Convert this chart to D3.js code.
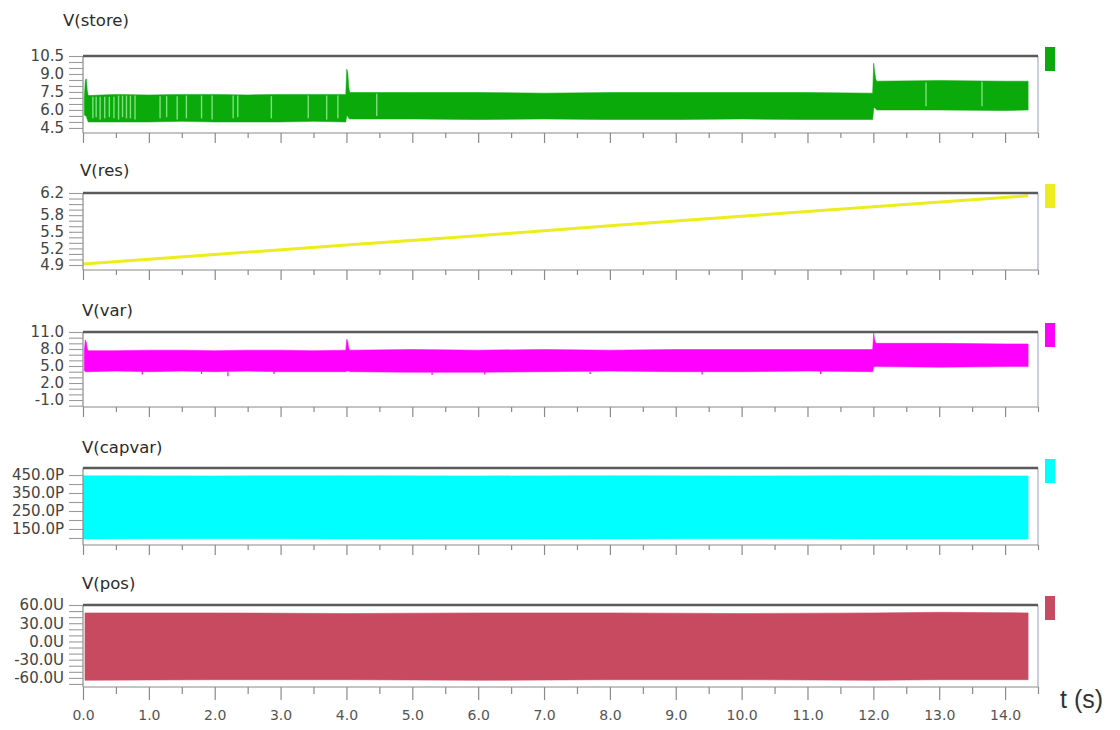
<!DOCTYPE html>
<html>
<head>
<meta charset="utf-8">
<script src="https://cdn.jsdelivr.net/npm/d3@7"></script>
<style>
  body { margin: 0; background: #fff; }
  svg { display: block; }
  .tick text { font-family: "DejaVu Sans", sans-serif; }
</style>
</head>
<body>
<svg id="chart" width="1120" height="730"></svg>
<script>
// ---- Time axis ----
const timeMajorTicks = d3.range(0, 14.01, 1);
const timeMinorTicks = d3.range(0.5, 14.51, 1);

// ---- V(store): envelope of the fast-switching waveform ----
const storeT  = [0.02, 0.035, 0.05, 0.065, 0.08, 0.5, 1.0, 1.5, 2.0, 2.5, 3.0, 3.5, 3.99, 4.005, 4.02, 4.035, 4.05, 5.0, 6.0, 7.0, 8.0, 9.0, 10.0, 11.0, 11.99, 12.005, 12.02, 12.035, 12.05, 13.0, 14.0, 14.35];
const storeLo = [5.6, 5.5, 5.5, 5.2, 5.0, 5.0, 5.0, 5.05, 5.0, 5.0, 5.0, 5.05, 5.0, 5.5, 5.5, 5.3, 5.25, 5.25, 5.2, 5.25, 5.2, 5.2, 5.25, 5.2, 5.2, 6.1, 6.2, 6.1, 6.0, 6.0, 5.95, 6.0];
const storeHi = [7.0, 8.5, 8.6, 7.6, 7.2, 7.3, 7.25, 7.3, 7.3, 7.25, 7.3, 7.3, 7.3, 9.4, 9.1, 7.9, 7.45, 7.45, 7.45, 7.4, 7.45, 7.45, 7.45, 7.45, 7.4, 9.9, 9.2, 8.6, 8.4, 8.45, 8.4, 8.4];
// short drop-outs visible inside the band
const storeDips   = [0.15, 0.2, 0.26, 0.33, 0.40, 0.47, 0.54, 0.60, 0.66, 0.72, 0.79, 1.17, 1.27, 1.43, 1.57, 1.80, 1.96, 2.28, 2.35, 2.86, 3.42, 3.70, 3.87, 4.46, 12.8, 13.65];
const storeDipLow = [5.3, 5.4, 5.2, 5.3, 5.4, 5.3, 5.2, 5.4, 5.3, 5.3, 5.2, 5.3, 5.4, 5.2, 5.3, 5.3, 5.2, 5.3, 5.4, 5.3, 5.3, 5.2, 5.3, 5.5, 6.3, 6.3];

// ---- V(res): slowly rising voltage ----
const resT = [0.0, 2.0, 4.0, 6.0, 8.0, 10.0, 12.0, 14.35];
const resV = [4.92, 5.09, 5.26, 5.43, 5.61, 5.78, 5.95, 6.15];

// ---- V(var): envelope ----
const varT  = [0.02, 0.035, 0.05, 0.065, 0.08, 0.5, 1.0, 1.5, 2.0, 2.5, 3.0, 3.5, 3.99, 4.005, 4.02, 4.035, 4.05, 5.0, 6.0, 7.0, 8.0, 9.0, 10.0, 11.0, 11.99, 12.005, 12.02, 12.035, 12.05, 13.0, 14.0, 14.35];
const varLo = [4.2, 4.0, 4.0, 4.0, 4.0, 4.1, 4.0, 4.1, 4.0, 4.1, 4.0, 4.0, 4.0, 4.1, 4.1, 4.1, 4.0, 3.9, 3.9, 4.0, 4.1, 4.0, 4.0, 4.1, 4.0, 4.8, 4.9, 4.9, 4.9, 4.8, 4.9, 4.9];
const varHi = [7.6, 9.6, 9.2, 8.0, 7.7, 7.7, 7.8, 7.8, 7.7, 7.8, 7.8, 7.7, 7.8, 9.7, 9.3, 8.1, 7.8, 7.9, 7.8, 7.9, 7.8, 7.9, 7.9, 7.9, 7.9, 10.8, 9.6, 9.1, 9.0, 9.0, 8.9, 8.9];
// brief downward excursions along the lower edge
const varDips   = [0.9, 1.8, 2.2, 2.9, 5.3, 6.1, 7.7, 9.4, 11.2];
const varDipLow = [3.5, 3.6, 3.2, 3.6, 3.4, 3.5, 3.6, 3.5, 3.6];

// ---- V(capvar): envelope (pV) ----
const capT  = [0.0, 2.0, 4.0, 6.0, 8.0, 10.0, 12.0, 14.35];
const capLo = [95, 96, 95, 94, 95, 96, 95, 95];
const capHi = [446, 445, 446, 445, 446, 445, 446, 445];

// ---- V(pos): envelope (uV) ----
const posT  = [0.03, 2.0, 4.0, 6.0, 8.0, 10.0, 12.0, 13.0, 14.35];
const posLo = [-64, -63, -63, -64, -63, -63, -64, -63, -63];
const posHi = [47, 47, 46, 47, 47, 46, 47, 48, 47];

// ---- Y tick definitions ----
const storeTicks = d3.range(4.5, 10.51, 0.5),  storeLabels = [4.5, 6.0, 7.5, 9.0, 10.5];
const resTicks   = d3.range(4.9, 6.201, 0.1),  resLabels   = [4.9, 5.2, 5.5, 5.8, 6.2];
const varTicks   = d3.range(-2, 11.01, 1),     varLabels   = [-1, 2, 5, 8, 11];
const capTicks   = d3.range(100, 450.1, 50),   capLabels   = [150, 250, 350, 450];
const posTicks   = d3.range(-70, 60.1, 10),    posLabels   = [-60, -30, 0, 30, 60];

const svg = d3.select("#chart");
const X0 = 83, X1 = 1038;
const x = d3.scaleLinear().domain([0, 14.5]).range([X0, X1]);

const panels = [
  { title: "V(store)",  titleX: 63, titleY: 26,  top: 56,  bottom: 133, domain: [4.08, 10.5], color: "#0aaa0a", dipColor: "#7fe07f",
    ticks: storeTicks, labels: storeLabels, fmt: d => d.toFixed(1),
    band: { t: storeT, lo: storeLo, hi: storeHi }, dips: { t: storeDips, lo: storeDipLow, fromTop: true } },
  { title: "V(res)",    titleX: 80, titleY: 176, top: 193, bottom: 270, domain: [4.81, 6.2], color: "#ecec1e",
    ticks: resTicks, labels: resLabels, fmt: d => d.toFixed(1),
    line: { t: resT, v: resV } },
  { title: "V(var)",    titleX: 82, titleY: 316, top: 332, bottom: 407, domain: [-2.23, 11], color: "#ff00ff", dipColor: "#ff00ff",
    ticks: varTicks, labels: varLabels, fmt: d => d.toFixed(1),
    band: { t: varT, lo: varLo, hi: varHi }, dips: { t: varDips, lo: varDipLow, fromTop: false } },
  { title: "V(capvar)", titleX: 82, titleY: 453, top: 468, bottom: 545, domain: [61, 489], color: "#00ffff",
    ticks: capTicks, labels: capLabels, fmt: d => d.toFixed(1) + "P",
    band: { t: capT, lo: capLo, hi: capHi } },
  { title: "V(pos)",    titleX: 82, titleY: 589, top: 605, bottom: 687, domain: [-75, 60], color: "#c84a60",
    ticks: posTicks, labels: posLabels, fmt: d => d.toFixed(1) + "U",
    band: { t: posT, lo: posLo, hi: posHi } }
];

panels.forEach((p, i) => {
  const isLast = i === panels.length - 1;
  const y = d3.scaleLinear().domain(p.domain).range([p.bottom, p.top]);
  const g = svg.append("g");
  const clipId = "clip" + i;
  svg.append("clipPath").attr("id", clipId)
    .append("rect").attr("x", X0).attr("y", p.top).attr("width", X1 - X0).attr("height", p.bottom - p.top);

  g.append("rect").attr("x", X0).attr("y", p.top).attr("width", X1 - X0).attr("height", p.bottom - p.top)
    .attr("fill", "#fff");

  const plot = g.append("g").attr("clip-path", `url(#${clipId})`);

  // envelope value at a given time (step lookup)
  const envAt = (arr, t) => {
    const idx = d3.bisectLeft(p.band.t, t);
    const k = Math.max(0, Math.min(p.band.t.length - 1, idx - 1));
    return arr[k];
  };

  if (p.band) {
    const rows = p.band.t.map((t, k) => ({ t, lo: p.band.lo[k], hi: p.band.hi[k] }));
    const area = d3.area().x(d => x(d.t)).y0(d => y(d.lo)).y1(d => y(d.hi));
    plot.append("path").datum(rows).attr("d", area)
      .attr("fill", p.color).attr("stroke", p.color).attr("stroke-width", 1).attr("stroke-opacity", 0.55);
  }
  if (p.dips) {
    const rows = p.dips.t.map((t, k) => ({ t, lo: p.dips.lo[k] }));
    plot.selectAll("line.dip").data(rows)
      .join("line").attr("class", "dip")
      .attr("x1", d => x(d.t)).attr("x2", d => x(d.t))
      .attr("y1", d => p.dips.fromTop ? y(envAt(p.band.hi, d.t) - 0.1) : y(envAt(p.band.lo, d.t)))
      .attr("y2", d => y(d.lo))
      .attr("stroke", p.dipColor).attr("stroke-width", p.dips.fromTop ? 1.4 : 1.2);
  }
  if (p.line) {
    const rows = p.line.t.map((t, k) => ({ t, v: p.line.v[k] }));
    plot.append("path").datum(rows)
      .attr("d", d3.line().x(d => x(d.t)).y(d => y(d.v)))
      .attr("fill", "none").attr("stroke", p.color).attr("stroke-width", 3);
  }

  // frame
  g.append("line").attr("x1", X0).attr("x2", X0).attr("y1", p.top).attr("y2", p.bottom)
    .attr("stroke", "#8a8a8a").attr("stroke-width", 1.2);
  g.append("line").attr("x1", X1).attr("x2", X1).attr("y1", p.top).attr("y2", p.bottom)
    .attr("stroke", "#a8acd8").attr("stroke-width", 1.2);
  g.append("line").attr("x1", X0).attr("x2", X1).attr("y1", p.bottom).attr("y2", p.bottom)
    .attr("stroke", "#8a8a8a").attr("stroke-width", 1.2);
  g.append("line").attr("x1", X0).attr("x2", X1).attr("y1", p.top).attr("y2", p.top)
    .attr("stroke", "#5a5a5a").attr("stroke-width", 2.5);

  // y axis
  const labelSet = new Set(p.labels.map(v => v.toFixed(3)));
  const yAxis = d3.axisLeft(y).tickValues(p.ticks).tickSize(14).tickPadding(5)
    .tickFormat(d => labelSet.has(d.toFixed(3)) ? p.fmt(d) : "");
  const ya = svg.append("g").attr("transform", `translate(${X0},0)`).call(yAxis);
  ya.select(".domain").remove();
  ya.selectAll(".tick line").attr("stroke", "#9a9a9a").attr("stroke-width", 1.1);
  ya.selectAll(".tick text").attr("font-size", 15).attr("fill", "#444");

  // x axis ticks under each panel
  const tickLen = isLast ? 13 : 10;
  const xAxisMajor = d3.axisBottom(x).tickValues(timeMajorTicks).tickSize(tickLen).tickPadding(isLast ? 10 : 3)
    .tickFormat(d => isLast ? d.toFixed(1) : "");
  const xa = svg.append("g").attr("transform", `translate(0,${p.bottom})`).call(xAxisMajor);
  xa.select(".domain").remove();
  xa.selectAll(".tick line").attr("stroke", "#8a8a8a").attr("stroke-width", 1.2);
  xa.selectAll(".tick text").attr("font-size", 14).attr("fill", "#555");
  const xAxisMinor = d3.axisBottom(x).tickValues(timeMinorTicks).tickSize(isLast ? 7 : 5).tickFormat("");
  const xm = svg.append("g").attr("transform", `translate(0,${p.bottom})`).call(xAxisMinor);
  xm.select(".domain").remove();
  xm.selectAll(".tick line").attr("stroke", "#8a8a8a").attr("stroke-width", 1.2);

  // title
  svg.append("text").attr("x", p.titleX).attr("y", p.titleY)
    .attr("font-family", "DejaVu Sans, sans-serif").attr("font-size", 16.5).attr("fill", "#2b2b2b")
    .text(p.title);

  // legend swatch
  svg.append("rect").attr("x", 1045).attr("y", p.top - 9).attr("width", 10).attr("height", 24)
    .attr("fill", p.color);
});

// time axis label
svg.append("text").attr("x", 1060).attr("y", 708)
  .attr("font-family", "Liberation Sans, Arial, sans-serif").attr("font-size", 25).attr("fill", "#333")
  .text("t (s)");
</script>
</body>
</html>
